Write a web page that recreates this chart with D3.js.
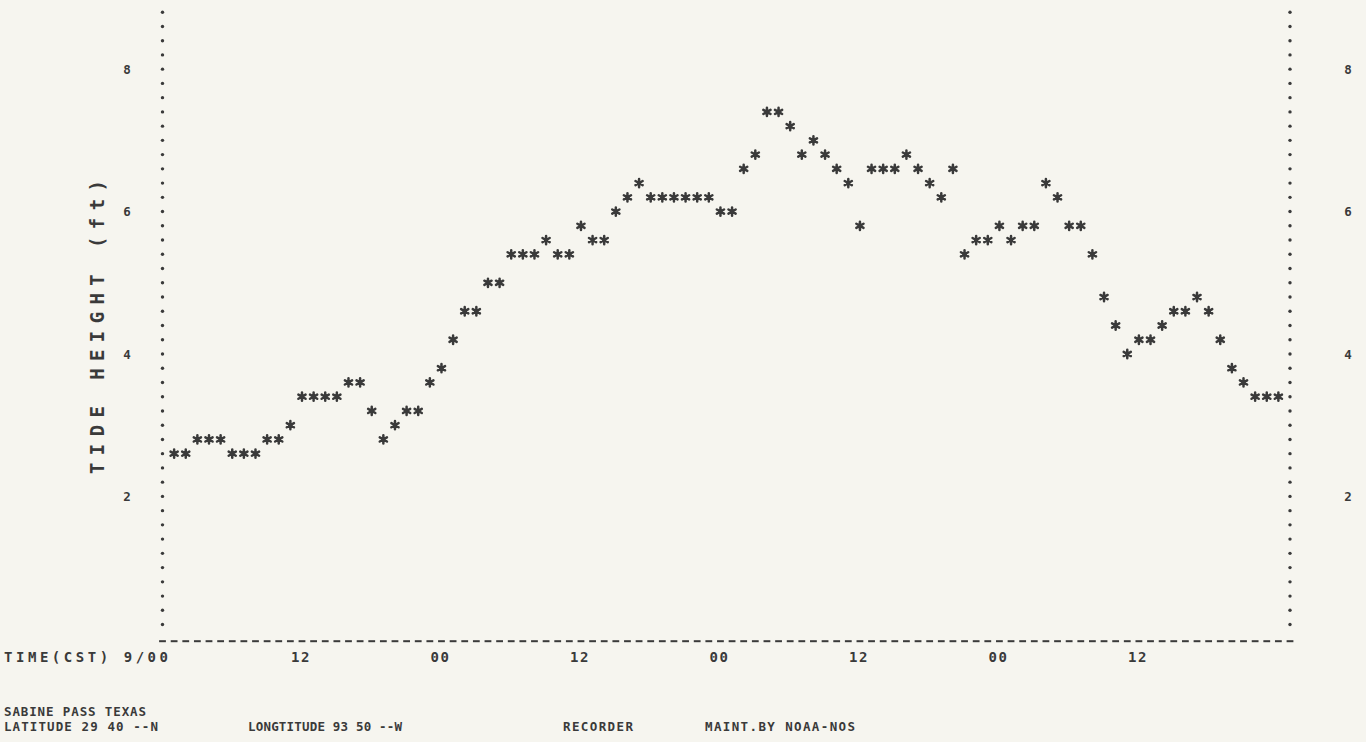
<!DOCTYPE html>
<html>
<head>
<meta charset="utf-8">
<script src="https://cdn.jsdelivr.net/npm/d3@7"></script>
<style>
  html, body { margin: 0; padding: 0; background: #f6f5ef; }
  svg { display: block; }
  text { font-family: "DejaVu Sans Mono", monospace; font-weight: bold; fill: #3a3a3a; }
</style>
</head>
<body>
<svg id="chart" width="1366" height="742"></svg>
<script>
// Hourly tide heights (ft), Sabine Pass, Texas, starting 9/00 CST
const hours = d3.range(1, 97);
const heights = [
  2.6, 2.6, 2.8, 2.8, 2.8, 2.6, 2.6, 2.6, 2.8, 2.8, 3.0, 3.4,
  3.4, 3.4, 3.4, 3.6, 3.6, 3.2, 2.8, 3.0, 3.2, 3.2, 3.6, 3.8,
  4.2, 4.6, 4.6, 5.0, 5.0, 5.4, 5.4, 5.4, 5.6, 5.4, 5.4, 5.8,
  5.6, 5.6, 6.0, 6.2, 6.4, 6.2, 6.2, 6.2, 6.2, 6.2, 6.2, 6.0,
  6.0, 6.6, 6.8, 7.4, 7.4, 7.2, 6.8, 7.0, 6.8, 6.6, 6.4, 5.8,
  6.6, 6.6, 6.6, 6.8, 6.6, 6.4, 6.2, 6.6, 5.4, 5.6, 5.6, 5.8,
  5.6, 5.8, 5.8, 6.4, 6.2, 5.8, 5.8, 5.4, 4.8, 4.4, 4.0, 4.2,
  4.2, 4.4, 4.6, 4.6, 4.8, 4.6, 4.2, 3.8, 3.6, 3.4, 3.4, 3.4
];
const yTicks = [2, 4, 6, 8];
const xTickHours = [12, 24, 36, 48, 60, 72, 84];
const xTickLabels = ["12", "00", "12", "00", "12", "00", "12"];
const timeLabel = "TIME(CST) 9/00";
const yTitle = "TIDE HEIGHT (ft)";
const stationLine1 = "SABINE PASS TEXAS";
const stationLine2 = ["LATITUDE 29 40 --N", "LONGTITUDE 93 50 --W", "RECORDER", "MAINT.BY NOAA-NOS"];

const svg = d3.select("#chart");
const ink = "#3a3a3a";

// one printer column per hour, one printer row per 0.2 ft
const x = d3.scaleLinear().domain([0, 97]).range([162.5, 1290]);
const y = d3.scaleLinear().domain([0, 8.8]).range([638.8, 12.2]);
const rows = d3.range(1, 45).map(i => +(i * 0.2).toFixed(1));

// dotted side axes
[0, 97].forEach(h => {
  svg.append("g").selectAll("circle")
    .data(rows).join("circle")
    .attr("cx", x(h)).attr("cy", d => y(d))
    .attr("r", 1.7).attr("fill", ink);
});

// dashed baseline, one dash per column
svg.append("g").selectAll("rect")
  .data(d3.range(0, 98)).join("rect")
  .attr("x", h => x(h) - 3.4).attr("y", y(0) + 1.4)
  .attr("width", 6.8).attr("height", 2)
  .attr("fill", ink);

// y tick labels on both sides
[127, 1348].forEach(px => {
  svg.append("g").selectAll("text")
    .data(yTicks).join("text")
    .attr("x", px).attr("y", d => y(d) + 4.6)
    .attr("text-anchor", "middle").attr("font-size", 12.5)
    .text(d => d);
});

// y axis title
svg.append("text")
  .attr("transform", "translate(104,327) rotate(-90)")
  .attr("text-anchor", "middle").attr("font-size", 19)
  .attr("textLength", 294).attr("lengthAdjust", "spacing")
  .text(yTitle);

// x tick labels
svg.append("g").selectAll("text")
  .data(xTickHours).join("text")
  .attr("x", d => x(d) - 1).attr("y", 662)
  .attr("text-anchor", "middle").attr("font-size", 14)
  .attr("letter-spacing", 1.5)
  .text((d, i) => xTickLabels[i]);
svg.append("text")
  .attr("x", 4).attr("y", 662).attr("font-size", 14)
  .attr("textLength", 164).attr("lengthAdjust", "spacing")
  .text(timeLabel);

// station footer
svg.append("text")
  .attr("x", 4).attr("y", 716).attr("font-size", 12.5)
  .attr("textLength", 142).attr("lengthAdjust", "spacing")
  .text(stationLine1);
const footX = [4, 248, 563, 705];
const footW = [154, 154, 70, 150];
svg.append("g").selectAll("text")
  .data(stationLine2).join("text")
  .attr("x", (d, i) => footX[i]).attr("y", 731).attr("font-size", 12.5)
  .attr("textLength", (d, i) => footW[i]).attr("lengthAdjust", "spacing")
  .text(d => d);

// hourly readings as printer asterisks
const star = d3.symbol().type(d3.symbolAsterisk).size(48);
const g = svg.append("g");
g.selectAll("path.star")
  .data(hours).join("path").attr("class", "star")
  .attr("transform", (h, i) => `translate(${x(h)},${y(heights[i])})`)
  .attr("d", star)
  .attr("fill", "none").attr("stroke", ink).attr("stroke-width", 2.5)
  .attr("stroke-linecap", "round");
g.selectAll("circle")
  .data(hours).join("circle")
  .attr("cx", h => x(h)).attr("cy", (h, i) => y(heights[i]))
  .attr("r", 2.3).attr("fill", ink);
</script>
</body>
</html>
